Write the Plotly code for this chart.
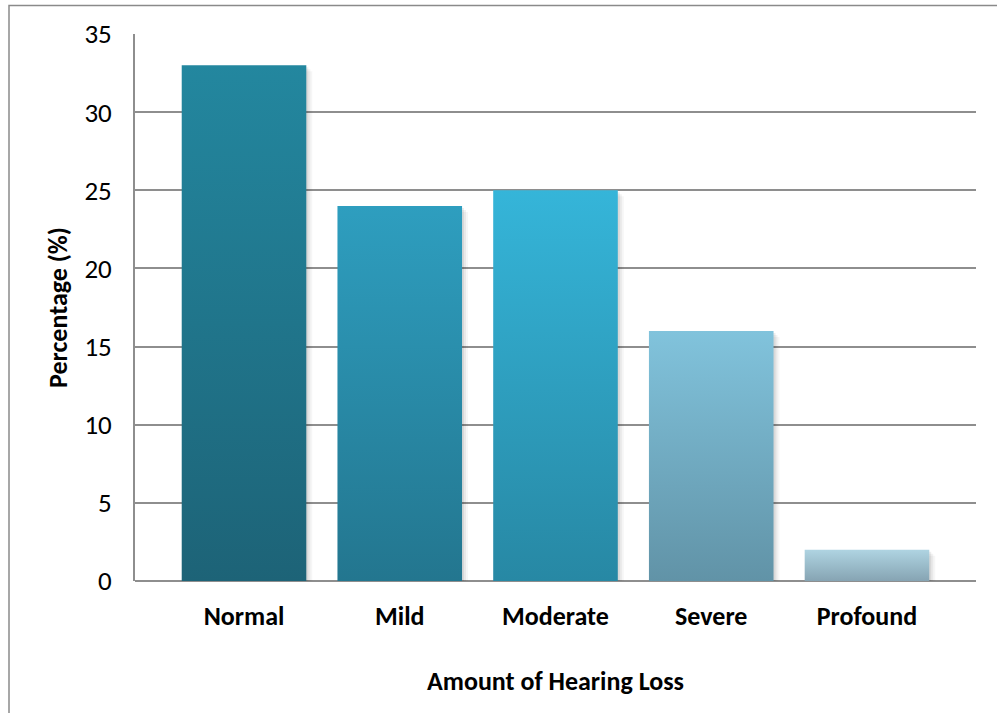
import plotly.graph_objects as go

# Survey data: distribution of hearing loss severity
categories = ["Normal", "Mild", "Moderate", "Severe", "Profound"]
percentages = [33, 24, 25, 16, 2]

# Per-bar vertical gradient (top colour, bottom colour)
top_colors = ["#23879F", "#2E9EBF", "#35B5D9", "#81C3DC", "#AFD4E2"]
bottom_colors = ["#1D6377", "#23768F", "#2788A4", "#6193A7", "#86A4B3"]

BAR_WIDTH = 0.80
PX_X = 1 / 156.0   # one pixel in category units
PX_Y = 1 / 15.62   # one pixel in percentage units

fig = go.Figure()

# soft drop shadow to the lower right of each bar
for i, v in enumerate(percentages):
    x0, x1 = i - BAR_WIDTH / 2, i + BAR_WIDTH / 2
    for k, a in [(6, 0.035), (4, 0.05), (2, 0.07)]:
        dx, dy = k * PX_X, k * PX_Y
        fig.add_trace(go.Scatter(
            x=[x0 + dx, x1 + dx, x1 + dx, x0 + dx, x0 + dx],
            y=[v - dy, v - dy, -dy, -dy, v - dy],
            fill="toself", mode="lines", line=dict(width=0),
            fillcolor=f"rgba(0,0,0,{a})", hoverinfo="skip", showlegend=False,
        ))

# gradient-filled bars
for i, (cat, v) in enumerate(zip(categories, percentages)):
    x0, x1 = i - BAR_WIDTH / 2, i + BAR_WIDTH / 2
    fig.add_trace(go.Scatter(
        x=[x0, x1, x1, x0, x0],
        y=[0, 0, v, v, 0],
        fill="toself", mode="lines", line=dict(width=0),
        fillgradient=dict(
            type="vertical",
            colorscale=[[0, bottom_colors[i]], [1, top_colors[i]]],
        ),
        name=cat, hovertemplate=f"{cat}: {v}%<extra></extra>", showlegend=False,
    ))

FONT = "Carlito, Calibri, Lato, sans-serif"
GRID = "#8E8E8E"

fig.update_layout(
    width=997, height=713,
    margin=dict(l=135, r=21, t=34, b=132),
    paper_bgcolor="white", plot_bgcolor="white",
    font=dict(family=FONT, color="black"),
    xaxis=dict(
        range=[-0.7, 4.7],
        tickmode="array",
        tickvals=list(range(len(categories))),
        ticktext=[f"<b>{c}</b>" for c in categories],
        tickfont=dict(size=26, family=FONT),
        showgrid=False, zeroline=False, showline=False,
        ticks="", ticklabelstandoff=17,
        title=dict(text="<b>Amount of Hearing Loss</b>",
                   font=dict(size=26, family=FONT), standoff=40),
        fixedrange=True,
    ),
    yaxis=dict(
        range=[0, 35],
        tickvals=[0, 5, 10, 15, 20, 25, 30, 35],
        tickfont=dict(size=27, family=FONT),
        showgrid=True, gridcolor=GRID, gridwidth=1.6,
        zeroline=True, zerolinecolor=GRID, zerolinewidth=1.6,
        showline=True, linecolor=GRID, linewidth=1.6,
        ticks="", ticklabelstandoff=16,
        title=dict(text="<b>Percentage (%)</b>",
                   font=dict(size=26, family=FONT), standoff=9),
        fixedrange=True,
    ),
    shapes=[
        # outer chart frame
        dict(type="rect", xref="paper", yref="paper",
             x0=(9 - 135) / 841, x1=(1005 - 135) / 841,
             y0=(580.5 - 720) / 546.5, y1=(580.5 - 5.5) / 546.5,
             line=dict(color="#8A8A8A", width=1.5), fillcolor="rgba(0,0,0,0)",
             layer="below"),
    ],
)

fig.write_html("out.html")
